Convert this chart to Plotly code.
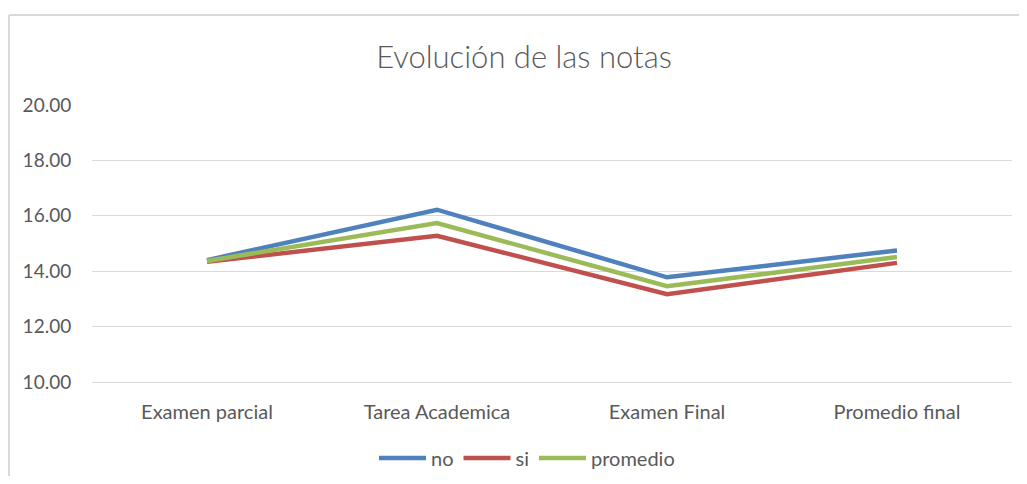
import plotly.graph_objects as go

categories = ["Examen parcial", "Tarea Academica", "Examen Final", "Promedio final"]
no_vals = [14.40, 16.22, 13.78, 14.75]
si_vals = [14.34, 15.28, 13.17, 14.30]
promedio_vals = [14.37, 15.74, 13.46, 14.51]
y_ticks = [10, 12, 14, 16, 18, 20]

OFF = 8  # default page body margin
W, H = 1027 - 2 * OFF, 484 - 2 * OFF
PLOT_L, PLOT_R, PLOT_T, PLOT_B = 92, 1012, 105, 382  # page pixels
ml, mr = PLOT_L - OFF, (W + OFF) - PLOT_R
mt, mb = PLOT_T - OFF, (H + OFF) - PLOT_B
pw, ph = W - ml - mr, H - mt - mb

font = "Lato, 'Open Sans', sans-serif"
grey = "#595959"
fig = go.Figure()
for name, vals, col in [("no", no_vals, "#4F81BD"), ("si", si_vals, "#C0504D"), ("promedio", promedio_vals, "#9BBB59")]:
    fig.add_trace(go.Scatter(x=categories, y=vals, name=name, mode="lines",
                             line=dict(color=col, width=4.5)))

# page-pixel -> paper coordinates
def px_x(p):
    return (p - PLOT_L) / pw
def px_y(p):
    return (PLOT_B - p) / ph

fig.update_layout(
    width=W, height=H,
    margin=dict(l=ml, r=mr, t=mt, b=mb, autoexpand=False),
    paper_bgcolor="white", plot_bgcolor="white",
    title=dict(text="Evolución de las notas", x=px_x(524), xref="paper", xanchor="center",
               y=1 - (57 - OFF) / H, yanchor="middle",
               font=dict(family=font, size=31, color=grey, weight=300)),
    xaxis=dict(showgrid=False, showline=True, linecolor="#D9D9D9", linewidth=1,
               ticks="outside", ticklen=12, tickcolor="rgba(0,0,0,0)", automargin=False,
               tickfont=dict(family=font, size=20, color=grey), range=[-0.5, 3.5]),
    yaxis=dict(range=[10, 20], tickvals=y_ticks, ticktext=[f"{v:.2f}" for v in y_ticks],
               showgrid=True, gridcolor="#D9D9D9", gridwidth=1, zeroline=False, showline=False,
               ticks="outside", ticklen=16, tickcolor="rgba(0,0,0,0)", automargin=False,
               tickfont=dict(family=font, size=19, color=grey)),
    legend=dict(orientation="h", x=(527 - OFF) / W, xref="container", xanchor="center",
                y=1 - (458 - OFF) / H, yref="container", yanchor="middle",
                itemwidth=47, font=dict(family=font, size=20, color=grey)),
    shapes=[
        dict(type="line", xref="paper", yref="paper", x0=px_x(9), x1=px_x(1030), y0=px_y(15), y1=px_y(15),
             line=dict(color="#D9D9D9", width=2)),
        dict(type="line", xref="paper", yref="paper", x0=px_x(9), x1=px_x(9), y0=px_y(15), y1=px_y(490),
             line=dict(color="#D9D9D9", width=2)),
    ],
)
fig.write_html("out.html")
